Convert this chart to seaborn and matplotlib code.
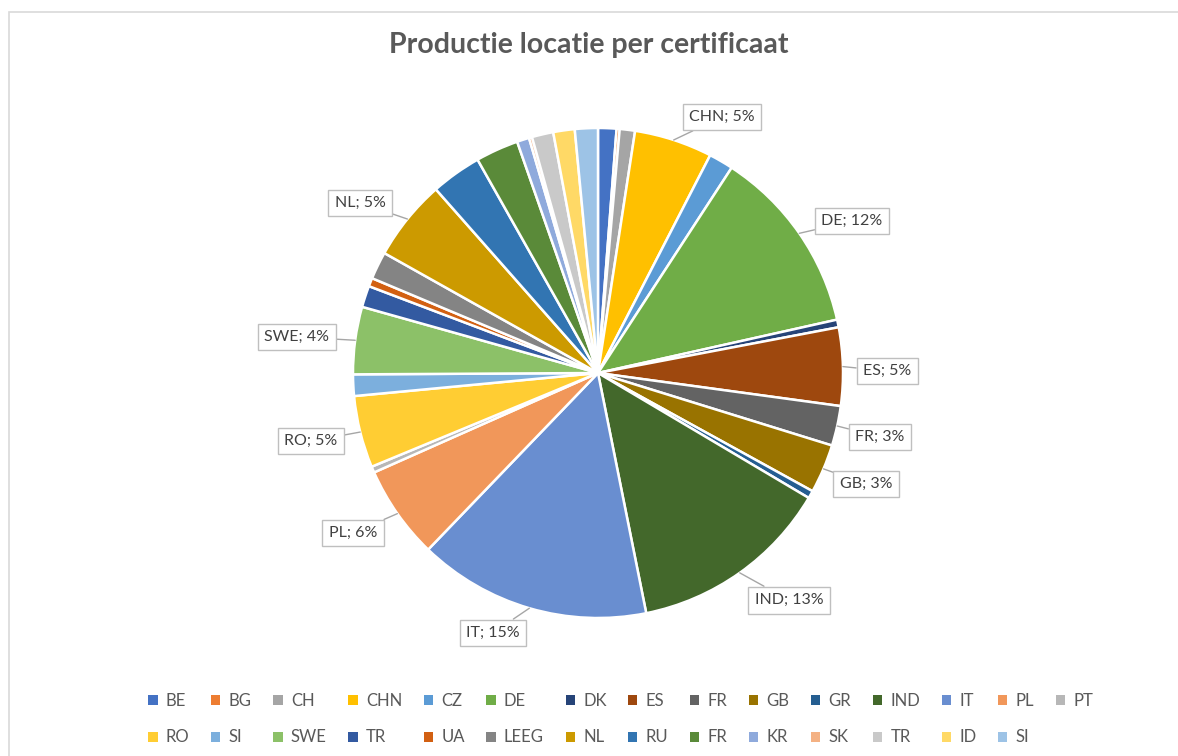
import numpy as np
import seaborn as sns
import matplotlib.pyplot as plt
from matplotlib.patches import Rectangle

# data (share in %)
countries = ["BE", "BG", "CH", "CHN", "CZ", "DE", "DK", "ES", "FR", "GB",
             "GR", "IND", "IT", "PL", "PT", "RO", "SI", "SWE", "TR", "UA",
             "LEEG", "NL", "RU", "FR", "KR", "SK", "TR", "ID", "SI"]
shares = [1.2, 0.2, 1.0, 5.1, 1.6, 12.2, 0.5, 5.1, 2.6, 3.2,
          0.5, 13.2, 15.2, 6.1, 0.4, 4.7, 1.4, 4.4, 1.4, 0.55,
          1.8, 5.3, 3.3, 2.8, 0.8, 0.2, 1.4, 1.4, 1.5]
colors = ["#4472C4", "#ED7D31", "#A5A5A5", "#FFC000", "#5B9BD5", "#70AD47",
          "#264478", "#9E480E", "#636363", "#997300", "#255E91", "#43682B",
          "#698ED0", "#F1975A", "#B7B7B7", "#FFCD33", "#7CAFDD", "#8CC168",
          "#335AA1", "#D26012", "#848484", "#CC9A00", "#3275B2", "#5A8A39",
          "#8FAADC", "#F4B183", "#C9C9C9", "#FFD966", "#9DC3E6"]

# which slices carry a data label, and where the label box sits
label_boxes = {3: (0.506, 1.045), 5: (1.037, 0.620), 7: (1.180, 0.008),
               8: (1.151, -0.261), 9: (1.094, -0.453), 11: (0.780, -0.927),
               12: (-0.429, -1.061), 13: (-1.0, -0.653), 15: (-1.171, -0.278),
               17: (-1.229, 0.147), 21: (-0.971, 0.694)}

sns.set_theme(style="white")
plt.rcParams["font.family"] = ["Lato", "DejaVu Sans"]

W, H = 1178, 756
cx, cy, r = 598, 373, 245
fig = plt.figure(figsize=(W / 100, H / 100), dpi=100)
ax = fig.add_axes([0, 0, 1, 1])

wedges, _ = ax.pie(shares, colors=colors, startangle=90, counterclock=False,
                   wedgeprops=dict(edgecolor="white", linewidth=1.8))
ax.set_xlim(-cx / r, (W - cx) / r)
ax.set_ylim(-(H - cy) / r, cy / r)
ax.set_aspect("equal")
ax.axis("off")

total = sum(shares)
for i, (tx, ty) in label_boxes.items():
    w = wedges[i]
    mid = np.deg2rad((w.theta1 + w.theta2) / 2)
    pct = shares[i] / total * 100
    ax.annotate(f"{countries[i]}; {pct:.0f}%", xy=(np.cos(mid), np.sin(mid)),
                xytext=(tx, ty), ha="center", va="center", fontsize=11.5,
                color="#404040",
                bbox=dict(boxstyle="square,pad=0.4", fc="white", ec="#BFBFBF", lw=1),
                arrowprops=dict(arrowstyle="-", color="#A6A6A6", lw=1,
                                shrinkA=0, shrinkB=0))

fig.text(0.5, 1 - 45 / H, "Productie locatie per certificaat", ha="center",
         va="center", fontsize=20.5, fontweight="bold", color="#595959")

# legend: row-major order for 15 columns
ncol = 15
order = []
for j in range(ncol):
    order.append(j)
    if j + ncol < len(countries):
        order.append(j + ncol)
leg = fig.legend([wedges[k] for k in order], [countries[k] for k in order],
                 ncol=ncol, loc="center", bbox_to_anchor=(0.527, 1 - 719 / H),
                 frameon=False, fontsize=12, handlelength=0.55, handleheight=0.55,
                 handletextpad=0.5, columnspacing=1.3, labelspacing=1.25)
for t in leg.get_texts():
    t.set_color("#595959")
for h in leg.legend_handles:
    h.set_edgecolor("none")

fig.add_artist(Rectangle((8.5 / W, -0.1), 2, 1.1 - 11.5 / H, transform=fig.transFigure,
                         fill=False, edgecolor="#D9D9D9", lw=1.2))

fig.savefig("out.png", dpi=100)
